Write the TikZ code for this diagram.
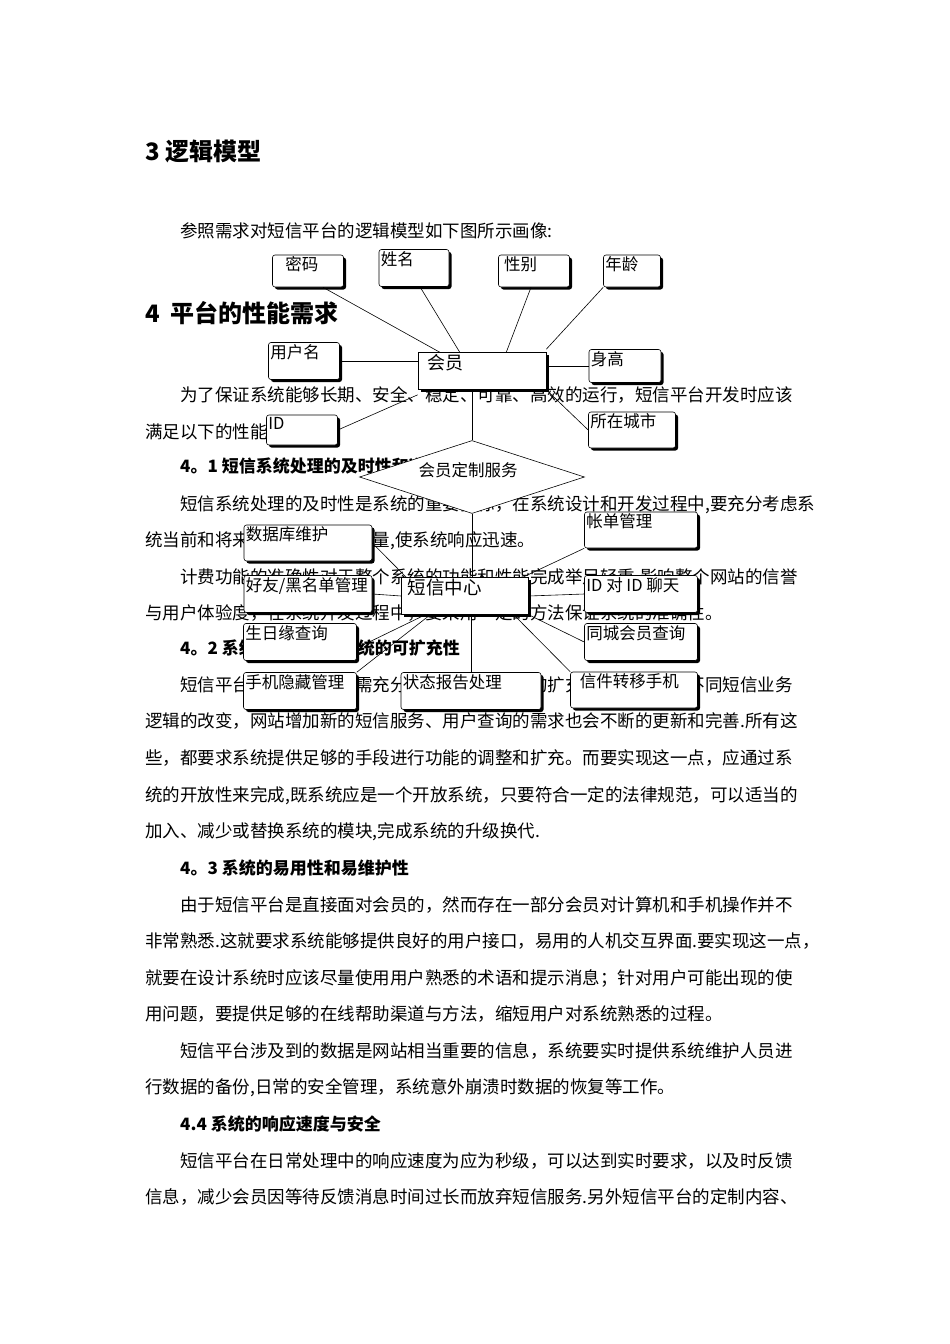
\documentclass[tikz,border=0pt]{standalone}
\usepackage{fontspec}
\setmainfont{Noto Sans CJK SC}
\usetikzlibrary{shapes.geometric,shadows}
\begin{document}
\begin{tikzpicture}[x=1pt,y=-1pt,
  para/.style={anchor=base west,inner sep=0,font=\fontsize{17.5}{19}\selectfont},
  head/.style={anchor=base west,inner sep=0,font=\fontsize{17}{19}\selectfont\bfseries},
  bx/.style={draw,fill=white,rounded corners=2.5pt,inner sep=0,line width=0.6pt,
    drop shadow={shadow xshift=2.5pt,shadow yshift=-2.5pt,fill=black,opacity=1}},
  sq/.style={bx,rounded corners=0pt},
  lbl/.style={anchor=north west,inner sep=2pt,font=\fontsize{16.5}{18}\selectfont},
  con/.style={line width=0.6pt}]
\useasboundingbox[fill=white] (0,0) rectangle (950,1344);
\newcommand{\mybox}[7]{\node[#1,minimum width=#5pt,minimum height=#6pt,
   label={[lbl]north west:#7}] (#2) at (#3,#4) {};}
% text
\node[anchor=base west,inner sep=0,font=\fontsize{24}{26}\selectfont\bfseries] (t3) at (145,160) {3 逻辑模型};
\node[para] (p0) at (180,237) {参照需求对短信平台的逻辑模型如下图所示画像:};
\node[anchor=base west,inner sep=0,font=\fontsize{24}{26}\selectfont\bfseries] (t4) at (145,322) {4\ \ 平台的性能需求};
\node[para] (l1) at (180,401) {为了保证系统能够长期、安全、稳定、可靠、高效的运行，短信平台开发时应该};
\node[para] (l2) at (145,438) {满足以下的性能需求：};
\node[head] (h41) at (180,472) {4。1 短信系统处理的及时性和准确性};
\node[para] (l3) at (180,510) {短信系统处理的及时性是系统的重要指标，在系统设计和开发过程中,要充分考虑系};
\node[para] (l4) at (145,546) {统当前和将来可能承受的工作量,使系统响应迅速。};
\node[para] (l5) at (180,583) {计费功能的准确性对于整个系统的功能和性能完成举足轻重,影响整个网站的信誉};
\node[para] (l6) at (145,619) {与用户体验度，在系统开发过程中，要采用一定的方法保证系统的准确性。};
\node[head] (h42) at (180,654) {4。2 系统的开放性和系统的可扩充性};
\node[para] (l7) at (180,691) {短信平台在设计开发时需充分考虑系统设计时的扩充性，以便适应不同短信业务};
\node[para] (l8) at (145,727) {逻辑的改变，网站增加新的短信服务、用户查询的需求也会不断的更新和完善.所有这};
\node[para] (l9) at (145,764) {些，都要求系统提供足够的手段进行功能的调整和扩充。而要实现这一点，应通过系};
\node[para] (l10) at (145,801) {统的开放性来完成,既系统应是一个开放系统，只要符合一定的法律规范，可以适当的};
\node[para] (l11) at (145,837) {加入、减少或替换系统的模块,完成系统的升级换代.};
\node[head] (h43) at (180,874) {4。3 系统的易用性和易维护性};
\node[para] (l12) at (180,911) {由于短信平台是直接面对会员的，然而存在一部分会员对计算机和手机操作并不};
\node[para] (l13) at (145,947) {非常熟悉.这就要求系统能够提供良好的用户接口，易用的人机交互界面.要实现这一点，};
\node[para] (l14) at (145,984) {就要在设计系统时应该尽量使用用户熟悉的术语和提示消息；针对用户可能出现的使};
\node[para] (l15) at (145,1020) {用问题，要提供足够的在线帮助渠道与方法，缩短用户对系统熟悉的过程。};
\node[para] (l16) at (180,1057) {短信平台涉及到的数据是网站相当重要的信息，系统要实时提供系统维护人员进};
\node[para] (l17) at (145,1093) {行数据的备份,日常的安全管理，系统意外崩溃时数据的恢复等工作。};
\node[head] (h44) at (180,1130) {4.4 系统的响应速度与安全};
\node[para] (l18) at (180,1167) {短信平台在日常处理中的响应速度为应为秒级，可以达到实时要求，以及时反馈};
\node[para] (l19) at (145,1203) {信息，减少会员因等待反馈消息时间过长而放弃短信服务.另外短信平台的定制内容、};
% boxes
\mybox{bx}{mima}{308}{271}{71}{32}{\ \ \ 密码}
\mybox{bx}{xm}{414}{268}{70}{37}{姓名}
\mybox{bx}{xb}{534}{271}{71}{32}{\ 性别}
\mybox{bx}{nl}{632}{271}{57}{32}{年龄}
\mybox{bx}{yhm}{304}{361}{71}{37}{用户名}
\node[sq,minimum width=128pt,minimum height=37pt,
   label={[lbl,font=\fontsize{18}{20}\selectfont]north west:\ \ 会员}] (hui) at (482,371) {};
\mybox{bx}{sg}{625}{366}{72}{33}{身高}
\mybox{bx}{id}{302}{430}{71}{30}{ID}
\mybox{bx}{szcs}{632}{430}{87}{36}{所在城市}
\node[diamond,draw,fill=white,line width=0.6pt,minimum width=225pt,minimum height=73pt,inner sep=0,aspect=3.1] (svc) at (472,477) {};
\node[font=\fontsize{16.5}{18}\selectfont,inner sep=0] (svct) at (468,470) {会员定制服务};
\mybox{bx}{sjk}{308}{543}{128}{36}{数据库维护}
\mybox{bx}{zd}{641}{530}{113}{36}{帐单管理}
\mybox{bx}{hy}{308}{594}{128}{37}{好友/黑名单管理}
\node[sq,minimum width=127pt,minimum height=37pt,
   label={[lbl,font=\fontsize{18.5}{20}\selectfont]north west:\ 短信中心}] (zx) at (465,596) {};
\mybox{bx}{idid}{641}{594}{113}{37}{ID 对 ID 聊天}
\mybox{bx}{sr}{300}{642}{113}{37}{生日缘查询}
\mybox{bx}{tc}{641}{642}{113}{37}{同城会员查询}
\mybox{bx}{sj}{300}{691}{113}{37}{手机隐藏管理}
\mybox{bx}{zt}{471}{691}{140}{37}{状态报告处理}
\mybox{bx}{xj}{634}{690}{127}{36}{\ \ 信件转移手机}
% connectors
\draw[con] ([xshift=15]mima.south) -- ([xshift=22]hui.north west);
\draw[con] ([xshift=6]xm.south) -- ([xshift=42]hui.north west);
\draw[con] ([xshift=-3]xb.south) -- ([xshift=-40]hui.north east);
\draw[con] (nl.south west) -- ([yshift=3]hui.north east);
\draw[con] (yhm.east) -- (hui.west |- yhm.east);
\draw[con] (hui.east |- sg.west) -- (sg.west);
\draw[con] (id.east) -- ([yshift=-5]hui.south west);
\draw[con] (szcs.west) -- (hui.south east);
\draw[con] (hui.south -| svc.north) -- (svc.north);
\draw[con] (svc.south) -- (zx.north -| svc.south);
\draw[con] (sjk.east) -- ([xshift=5]zx.north west);
\draw[con] (zd.south west) -- ([xshift=-6]zx.north east);
\draw[con] (hy.east) -- (zx.west);
\draw[con] (zx.east) -- (idid.west);
\draw[con] ([yshift=-6]sr.east) -- ([xshift=24]zx.south west);
\draw[con] (sj.north east) -- ([xshift=29]zx.south west);
\draw[con] (tc.west) -- (zx.south east);
\draw[con] (xj.north west) -- ([xshift=-15]zx.south east);
\draw[con] (zt.north) -- (zt.north |- zx.south);
\end{tikzpicture}
\end{document}
